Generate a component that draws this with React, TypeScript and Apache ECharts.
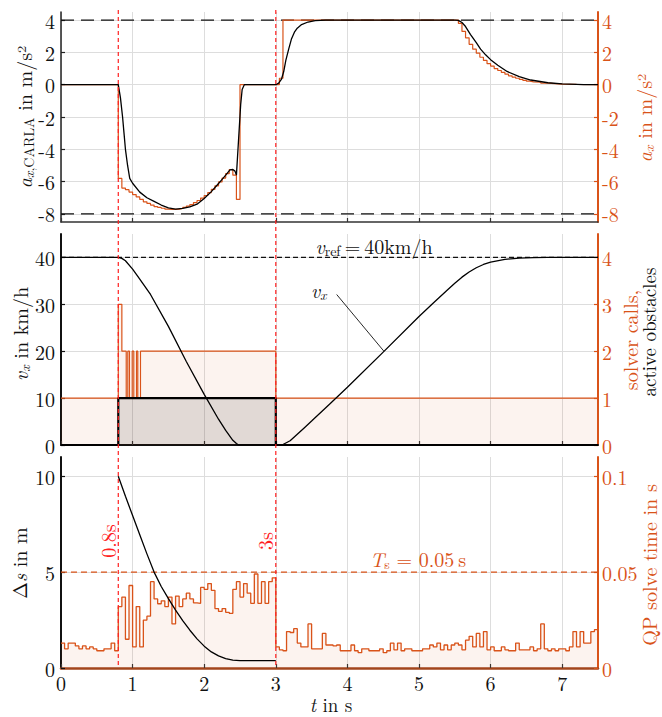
import { useEffect, useRef } from "react";
import * as echarts from "echarts";

const FONT = "Latin Modern Roman";
const ORANGE = "#D95319";
const RED = "#FF2020";
const GRIDC = "#dddddd";

// ---------- shared ----------
const T_END = 7.5;
const timeTicks = [0, 1, 2, 3, 4, 5, 6, 7];
const eventTimes = [0.8, 3.0];
const eventLabels = ["0.8s", "3s"];

// ---------- top panel: accelerations ----------
const accelTicks = [-8, -6, -4, -2, 0, 2, 4];
const accelLimits = [4, -8];
const axCarlaT = [0, 0.8, 0.83, 0.86, 0.88, 0.9, 0.93, 0.96, 1.0, 1.1, 1.2, 1.3, 1.4, 1.5, 1.6, 1.7, 1.8, 1.9, 2.0, 2.1, 2.2, 2.3, 2.36, 2.4, 2.43, 2.45, 2.48, 2.51, 2.53, 2.56, 3.0, 3.04, 3.08, 3.11, 3.14, 3.18, 3.22, 3.26, 3.3, 3.36, 3.45, 3.55, 3.7, 5.5, 5.55, 5.6, 5.65, 5.72, 5.8, 5.86, 5.93, 6.0, 6.1, 6.23, 6.4, 6.56, 6.8, 7.0, 7.3, 7.5];
const axCarlaV = [0, 0, -0.8, -2.0, -3.0, -4.0, -5.0, -5.8, -6.1, -6.65, -7.0, -7.22, -7.45, -7.62, -7.7, -7.66, -7.57, -7.4, -7.05, -6.62, -6.12, -5.6, -5.27, -5.25, -5.35, -5.6, -3.4, -1.2, -0.3, 0, 0, 0.1, 0.35, 0.8, 1.5, 2.2, 2.85, 3.25, 3.5, 3.72, 3.88, 3.96, 4.0, 4.0, 3.98, 3.85, 3.6, 3.1, 2.6, 2.2, 1.85, 1.55, 1.2, 0.82, 0.5, 0.29, 0.12, 0.05, 0.01, 0];
const axCmdT = [0, 0.8, 0.85, 0.9, 0.95, 1.0, 1.05, 1.1, 1.15, 1.2, 1.25, 1.3, 1.35, 1.4, 1.45, 1.5, 1.55, 1.6, 1.65, 1.7, 1.75, 1.8, 1.85, 1.9, 1.95, 2.0, 2.05, 2.1, 2.15, 2.2, 2.25, 2.3, 2.35, 2.4, 2.45, 2.5, 3.05, 3.1, 5.55, 5.6, 5.65, 5.7, 5.75, 5.8, 5.85, 5.9, 5.95, 6.0, 6.05, 6.1, 6.15, 6.2, 6.25, 6.3, 6.35, 6.4, 6.45, 6.5, 6.55, 6.6, 6.7, 6.8, 6.9, 7.0, 7.2, 7.5];
const axCmdV = [0, -5.8, -6.4, -6.5, -6.65, -6.8, -6.95, -7.1, -7.25, -7.35, -7.45, -7.55, -7.6, -7.65, -7.7, -7.72, -7.72, -7.7, -7.66, -7.6, -7.52, -7.42, -7.3, -7.17, -7.02, -6.86, -6.68, -6.48, -6.26, -6.02, -5.78, -5.5, -5.25, -5.6, -7.1, 0, 0.4, 4, 3.8, 3.3, 2.9, 2.5, 2.2, 1.95, 1.7, 1.5, 1.3, 1.15, 1.0, 0.88, 0.76, 0.65, 0.55, 0.47, 0.4, 0.33, 0.27, 0.22, 0.18, 0.15, 0.1, 0.07, 0.04, 0.02, 0.01, 0];

// ---------- middle panel: speed, solver calls, obstacles ----------
const speedTicks = [0, 10, 20, 30, 40];
const countTicks = [0, 1, 2, 3, 4];
const vRef = 40;
const vxT = [0, 0.8, 0.85, 0.9, 1.0, 1.1, 1.25, 1.5, 1.75, 2.0, 2.2, 2.3, 2.4, 2.45, 2.48, 3.0, 3.05, 3.1, 3.2, 3.3, 3.4, 3.5, 3.75, 4.0, 4.5, 5.0, 5.2, 5.4, 5.5, 5.6, 5.7, 5.8, 5.9, 6.0, 6.2, 6.4, 6.6, 6.8, 7.5];
const vxV = [40, 40, 39.8, 39.3, 37.5, 35.4, 32.1, 25.3, 17.8, 10.8, 5.5, 3.1, 1.0, 0.3, 0, 0, 0, 0.1, 0.9, 2.3, 3.7, 5.1, 8.7, 12.3, 19.8, 27.4, 30.3, 33.1, 34.5, 35.8, 36.9, 37.8, 38.5, 39.0, 39.6, 39.85, 39.95, 40, 40];
const solverT = [0, 0.8, 0.85, 0.911, 0.933, 0.957, 0.994, 1.017, 1.054, 1.073, 1.11, 3.0, 7.5];
const solverV = [1, 3, 2, 1, 2, 1, 2, 1, 2, 1, 2, 1, 1];
const obstT = [0, 0.8, 3.0, 7.5];
const obstV = [0, 1, 0, 0];
const vxLabelAt = [3.6, 33.2];
const vxLeaderFrom = [3.85, 32.1];
const vxLeaderTo = [4.51, 20.0];

// ---------- bottom panel: distance and QP solve time ----------
const distTicks = [0, 5, 10];
const solveTicks = [0, 0.05, 0.1];
const Ts = 0.05;
const dsT = [0.8, 0.9, 1.0, 1.1, 1.2, 1.3, 1.4, 1.5, 1.6, 1.7, 1.8, 1.9, 2.0, 2.1, 2.2, 2.3, 2.4, 2.5, 3.0];
const dsV = [10, 8.95, 7.95, 6.95, 5.95, 5.0, 4.25, 3.62, 3.02, 2.47, 1.97, 1.52, 1.14, 0.84, 0.63, 0.49, 0.41, 0.38, 0.38];
const qpSolveMs = [
  13, 10, 13, 13, 11.5, 10, 11.5, 10, 11, 10, 9, 9, 10, 10, 13, 9,
  32, 37, 15, 43, 11, 32, 11, 25, 27, 45, 36, 33.5, 35, 32, 37, 23, 37.5, 32, 36, 39, 36, 34,
  33.7, 42, 41, 44, 40.5, 31, 29.5, 31, 29, 28.5, 41, 45, 37, 44, 39, 33.7, 49, 33.7, 45, 33.7, 45, 47,
  11, 9.5, 9, 19, 18.5, 20.5, 13, 11, 11, 23, 10, 10, 10, 18, 12,
  12, 11.5, 12, 9, 9, 9, 12, 9, 8, 10, 10, 9, 9, 9, 10, 8, 9, 13, 9.5, 13, 9, 10, 10, 9, 9, 9, 10, 10, 12, 11, 13, 9.5, 12, 9.5, 12, 13, 12, 9.5, 14.5, 16.5,
  11, 18, 11, 19, 9.5, 11, 9, 9, 11, 9.5, 9, 9, 13, 9.5, 9.5, 9.5, 11, 9, 10, 23, 10, 9, 10, 9, 10, 10, 9, 11, 19, 11, 19, 13, 13, 19, 20,
];

const zip = (t: number[], v: number[]) => t.map((x, i) => [x, v[i]]);

function richSet(color: string, size: number) {
  const sub = Math.round(size * 0.7);
  const pad = Math.round(size * 0.45);
  return {
    n: { fontFamily: FONT, fontSize: size, fill: color },
    i: { fontFamily: FONT, fontSize: size, fontStyle: "italic", fill: color },
    s: { fontFamily: FONT, fontSize: sub, fill: color, padding: [pad, 0, 0, 0] },
    si: { fontFamily: FONT, fontSize: sub, fontStyle: "italic", fill: color, padding: [pad, 0, 0, 0] },
  };
}

function label(text: string, x: number, y: number, color: string, size: number, rotate = false) {
  return {
    type: "text",
    x,
    y,
    rotation: rotate ? Math.PI / 2 : 0,
    silent: true,
    z: 20,
    style: {
      text,
      rich: richSet(color, size),
      fill: color,
      fontFamily: FONT,
      fontSize: size,
      align: "center",
      verticalAlign: "middle",
    },
  };
}

function xAxis(gridIndex: number, showLabels: boolean, lineColor: string, lineWidth: number) {
  return {
    type: "value",
    gridIndex,
    min: 0,
    max: T_END,
    axisLine: { show: true, onZero: false, lineStyle: { color: lineColor, width: lineWidth } },
    axisTick: { show: true, inside: true, length: 4, customValues: timeTicks, lineStyle: { color: "#333", width: 1.2 } },
    axisLabel: { show: showLabels, customValues: timeTicks, fontFamily: FONT, fontSize: 20, color: "#111", margin: 4 },
    splitLine: { show: true, lineStyle: { color: GRIDC, width: 1 } },
  };
}

function yAxis(gridIndex: number, side: "left" | "right", min: number, max: number, ticks: number[], color: string, lineWidth: number, split: boolean) {
  return {
    type: "value",
    gridIndex,
    position: side,
    min,
    max,
    axisLine: { show: true, onZero: false, lineStyle: { color, width: lineWidth } },
    axisTick: { show: true, inside: true, length: 4, customValues: ticks, lineStyle: { color, width: 1.2 } },
    axisLabel: { show: true, customValues: ticks, fontFamily: FONT, fontSize: 20, color: side === "left" ? "#111" : color, margin: side === "left" ? 6 : 4 },
    splitLine: { show: split, lineStyle: { color: GRIDC, width: 1 } },
  };
}

function hLine(value: number, xAxisIndex: number, yAxisIndex: number, color: string, dash: number[], width: number) {
  return {
    type: "line",
    xAxisIndex,
    yAxisIndex,
    data: [[0, value], [T_END, value]],
    symbol: "none",
    silent: true,
    lineStyle: { color, width, type: dash },
    z: 3,
  };
}

function buildOption() {
  const qpData = qpSolveMs.map((ms, k) => [k * Ts, ms / 1000]);
  qpData.push([T_END, qpSolveMs[qpSolveMs.length - 1] / 1000]);
  return {
    animation: false,
    textStyle: { fontFamily: FONT },
    grid: [
      { left: 61, right: 64, top: 12, height: 210 },
      { left: 61, right: 64, top: 234, height: 211 },
      { left: 61, right: 64, top: 457, height: 211 },
    ],
    xAxis: [xAxis(0, false, "#333", 1.5), xAxis(1, false, "#111", 2), xAxis(2, true, "#A2451C", 2.5)],
    yAxis: [
      yAxis(0, "left", -8.5, 4.5, accelTicks, "#222", 1.5, true),
      yAxis(0, "right", -8.5, 4.5, accelTicks, ORANGE, 2, false),
      yAxis(1, "left", 0, 45, speedTicks, "#111", 2, true),
      yAxis(1, "right", 0, 4.5, countTicks, ORANGE, 2, false),
      yAxis(2, "left", 0, 11, distTicks, "#111", 2, true),
      yAxis(2, "right", 0, 0.11, solveTicks, ORANGE, 2, false),
    ],
    series: [
      // top
      ...accelLimits.map((l) => hLine(l, 0, 0, "#111", [13, 7], 1.3)),
      {
        type: "line", xAxisIndex: 0, yAxisIndex: 1, data: zip(axCmdT, axCmdV), step: "end",
        symbol: "none", silent: true, lineStyle: { color: ORANGE, width: 1.2 }, z: 4,
      },
      {
        type: "line", xAxisIndex: 0, yAxisIndex: 0, data: zip(axCarlaT, axCarlaV),
        symbol: "none", silent: true, lineStyle: { color: "#000", width: 1.3 }, z: 5,
      },
      // middle
      {
        type: "line", xAxisIndex: 1, yAxisIndex: 3, data: zip(solverT, solverV), step: "end",
        symbol: "none", silent: true, lineStyle: { color: ORANGE, width: 1.2 },
        areaStyle: { color: "rgba(217,83,25,0.10)" }, z: 2,
      },
      {
        type: "line", xAxisIndex: 1, yAxisIndex: 3, data: zip(obstT, obstV), step: "end",
        symbol: "none", silent: true, lineStyle: { color: "#000", width: 2.2 },
        areaStyle: { color: "rgba(0,0,0,0.15)" }, z: 3,
      },
      hLine(vRef, 1, 2, "#111", [5, 3], 1.2),
      {
        type: "line", xAxisIndex: 1, yAxisIndex: 2, data: zip(vxT, vxV),
        symbol: "none", silent: true, lineStyle: { color: "#000", width: 1.3 }, z: 5,
      },
      // bottom
      {
        type: "line", xAxisIndex: 2, yAxisIndex: 5, data: qpData, step: "end",
        symbol: "none", silent: true, lineStyle: { color: ORANGE, width: 1.3 },
        areaStyle: { color: "rgba(217,83,25,0.10)" }, z: 2,
      },
      hLine(Ts, 2, 5, ORANGE, [6, 4], 1.3),
      {
        type: "line", xAxisIndex: 2, yAxisIndex: 4, data: zip(dsT, dsV),
        symbol: "none", silent: true, lineStyle: { color: "#000", width: 1.3 }, z: 5,
      },
    ],
  };
}

export default function App() {
  const ref = useRef<HTMLDivElement>(null);
  useEffect(() => {
    document.body.style.margin = "0";
    const chart = echarts.init(ref.current!, null, { renderer: "svg" });
    chart.setOption(buildOption());

    const pt = (xi: number, yi: number, d: number[]) =>
      chart.convertToPixel({ xAxisIndex: xi, yAxisIndex: yi } as any, d) as unknown as number[];
    const topY = (chart.convertToPixel({ yAxisIndex: 0 } as any, 4.5) as unknown as number) - 2;
    const botY = chart.convertToPixel({ yAxisIndex: 4 } as any, 0) as unknown as number;

    const graphics: any[] = [];
    eventTimes.forEach((t, i) => {
      const x = chart.convertToPixel({ xAxisIndex: 0 } as any, t) as unknown as number;
      graphics.push({
        type: "line", silent: true, z: 15,
        shape: { x1: x, y1: topY, x2: x, y2: botY },
        style: { stroke: RED, lineWidth: 1.2, lineDash: [4, 3] },
      });
      graphics.push(label(`{n|${eventLabels[i]}}`, x - 11, 541, RED, 20, true));
    });

    const lf = pt(1, 2, vxLeaderFrom);
    const lt = pt(1, 2, vxLeaderTo);
    graphics.push({
      type: "line", silent: true, z: 15,
      shape: { x1: lf[0], y1: lf[1], x2: lt[0], y2: lt[1] },
      style: { stroke: "#111", lineWidth: 0.9 },
    });
    const vl = pt(1, 2, vxLabelAt);
    graphics.push(label("{i|v}{si|x}", vl[0], vl[1], "#111", 20));
    graphics.push(label("{i|v}{s|ref}{n|\u2009=\u200940km/h}", 374, 245, "#111", 20));
    graphics.push(label("{i|T}{s|s}{n| = 0.05\u2009s}", 418, 558, ORANGE, 20));

    // axis names
    graphics.push(label("{i|a}{si|x}{s|,CARLA}{n| in m/s²}", 23, 117, "#111", 20, true));
    graphics.push(label("{i|a}{si|x}{n| in m/s²}", 643, 118, ORANGE, 20, true));
    graphics.push(label("{i|v}{si|x}{n| in km/h}", 19, 334, "#111", 20, true));
    graphics.push(label("{n|solver calls,}", 629, 340, ORANGE, 20, true));
    graphics.push(label("{n|active obstacles}", 648, 332, "#111", 19, true));
    graphics.push(label("{n|Δ}{i|s}{n| in m}", 18, 563, "#111", 20, true));
    graphics.push(label("{n|QP solve time in s}", 648, 565, ORANGE, 20, true));
    graphics.push(label("{i|t}{n| in s}", 331, 704, "#111", 19));

    chart.setOption({ graphic: graphics });
    return () => chart.dispose();
  }, []);
  return <div ref={ref} style={{ position: "absolute", left: 0, top: 0, width: 662, height: 717 }} />;
}
